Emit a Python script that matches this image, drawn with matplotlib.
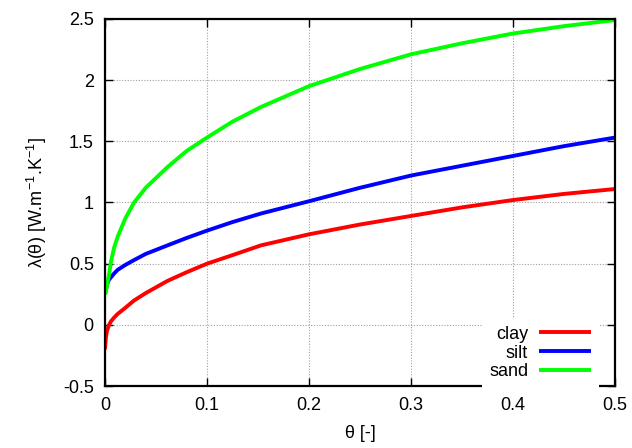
import matplotlib
matplotlib.use("Agg")
import matplotlib.pyplot as plt

plt.rcParams["font.family"] = ["Liberation Sans", "DejaVu Sans"]
plt.rcParams["mathtext.fontset"] = "custom"
plt.rcParams["mathtext.rm"] = "Liberation Sans"

# water content theta and conductivity
theta = [0, 0.001, 0.002, 0.004, 0.006, 0.009, 0.0125, 0.02, 0.0286, 0.04,
         0.0614, 0.08, 0.1, 0.125, 0.153, 0.2, 0.25, 0.3, 0.35, 0.4,
         0.45, 0.5]
clay = [-0.2, -0.1, -0.05, 0.0, 0.03, 0.06, 0.09, 0.14, 0.20, 0.26,
        0.36, 0.43, 0.50, 0.57, 0.65, 0.74, 0.82, 0.89, 0.96, 1.02,
        1.07, 1.11]
silt = [0.25, 0.29, 0.33, 0.37, 0.39, 0.42, 0.45, 0.49, 0.53, 0.58,
        0.65, 0.71, 0.77, 0.84, 0.91, 1.01, 1.12, 1.22, 1.30, 1.38,
        1.46, 1.53]
sand = [0.25, 0.27, 0.32, 0.41, 0.52, 0.63, 0.72, 0.87, 1.00, 1.12,
        1.29, 1.42, 1.53, 1.66, 1.78, 1.95, 2.09, 2.21, 2.30, 2.38,
        2.44, 2.49]

xticks = [0, 0.1, 0.2, 0.3, 0.4, 0.5]
yticks = [-0.5, 0, 0.5, 1, 1.5, 2, 2.5]
xlabels = ["0", "0.1", "0.2", "0.3", "0.4", "0.5"]
ylabels = ["-0.5", "0", "0.5", "1", "1.5", "2", "2.5"]

fig = plt.figure(figsize=(6.32, 4.48), dpi=100)
ax = fig.add_axes([0.166, 0.138, 0.807, 0.82])

style = dict(lw=2.8, solid_joinstyle="round", solid_capstyle="butt")
ax.plot(theta, clay, color="#ff0000", label="clay", **style)
ax.plot(theta, silt, color="#0000ff", label="silt", **style)
ax.plot(theta, sand, color="#00ff00", label="sand", **style)

ax.set_xlim(0, 0.5)
ax.set_ylim(-0.5, 2.5)
ax.set_xticks(xticks)
ax.set_xticklabels(xlabels)
ax.set_yticks(yticks)
ax.set_yticklabels(ylabels)
ax.tick_params(direction="in", length=6, width=1, top=True, right=True,
               labelsize=13, pad=8)
ax.grid(True, color="#a0a0a0", linestyle=(0, (1, 1.5)), lw=0.8)
for s in ax.spines.values():
    s.set_linewidth(1.6)

ax.set_xlabel("θ [-]", fontsize=13, labelpad=8)
ax.set_ylabel("λ(θ) [W.m$^{-1}$.K$^{-1}$]", fontsize=13, labelpad=10)

leg = ax.legend(loc="lower right", bbox_to_anchor=(0.968, -0.004),
                markerfirst=False, fontsize=13,
                frameon=True, framealpha=1, facecolor="white",
                edgecolor="none", handlelength=2.9, handletextpad=0.6,
                labelspacing=0.1, borderaxespad=0, fancybox=False)
for t in leg.get_texts():
    t.set_ha("right")

fig.savefig("out.png", dpi=100)
